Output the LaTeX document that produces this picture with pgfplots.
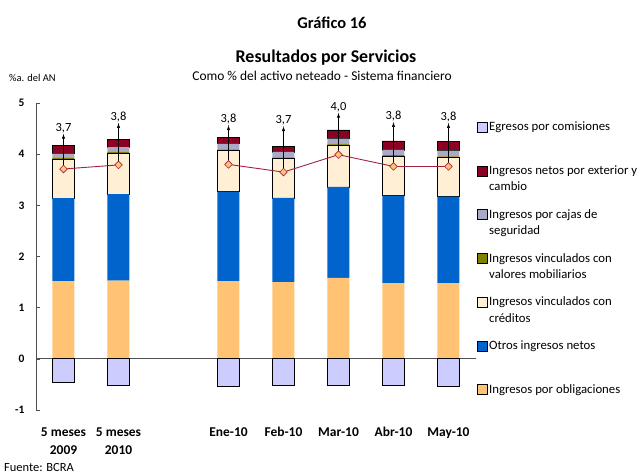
\documentclass[border=0pt]{standalone}
\usepackage{fontspec}
\setmainfont{Carlito}
\usepackage{pgfplots}
\usepackage{pgfplotstable}
\pgfplotsset{compat=1.18}
\usetikzlibrary{arrows.meta}
\definecolor{cEgr}{HTML}{CCCCFF}
\definecolor{cRed}{HTML}{8C0022}
\definecolor{cGray}{HTML}{AAAAC6}
\definecolor{cOlive}{HTML}{808000}
\definecolor{cCream}{HTML}{FFEFD4}
\definecolor{cBlue}{HTML}{0064CC}
\definecolor{cOrange}{HTML}{FFC373}
\definecolor{cLine}{HTML}{A3223E}
\definecolor{cAxis}{HTML}{505050}

\pgfplotstableread{
x lab orange blue cred olive gray red egr total tip d
0 3,7 1.52 1.62 0.76 0.03 0.08 0.16 -0.46 3.71 4.39 0.68
1 3,8 1.53 1.69 0.79 0.04 0.09 0.15 -0.52 3.79 4.60 0.81
3 3,8 1.52 1.75 0.80 0.025 0.11 0.12 -0.54 3.80 4.56 0.76
4 3,7 1.50 1.645 0.765 0.025 0.11 0.10 -0.515 3.65 4.54 0.89
5 4,0 1.58 1.78 0.82 0.025 0.10 0.17 -0.52 3.99 4.80 0.81
6 3,8 1.48 1.71 0.765 0.025 0.105 0.175 -0.52 3.76 4.62 0.86
7 3,8 1.48 1.69 0.76 0.025 0.115 0.185 -0.535 3.76 4.60 0.84
}\data

\pgfplotsset{
  base/.style={
    scale only axis, width=440bp, height=307bp,
    at={(36bp,-410bp)}, anchor=south west,
    xmin=-0.5, xmax=7.5, ymin=-1, ymax=5,
    bar width=0.4,
  },
  sq/.style={legend image code/.code={\draw[##1] (0bp,3.25bp) rectangle (10bp,13.25bp);}},
}

\begin{document}
\begin{tikzpicture}
\begin{axis}[base, ybar stacked, axis lines=none,
  reverse legend,
  legend cell align=left,
  legend style={at={(0.995,0.95)}, anchor=north west, draw=none, fill=none,
    font=\fontsize{12.8}{16.5}\selectfont, row sep=14bp,
    nodes={align=left, inner sep=1.5bp}},
]
\addplot[sq, fill=cOrange, draw=none] table[x=x,y=orange]{\data};
\addlegendentry{Ingresos por obligaciones\\\mbox{}}
\addplot[sq, fill=cBlue, draw=none] table[x=x,y=blue]{\data};
\addlegendentry{Otros ingresos netos\\\mbox{}}
\addplot[sq, fill=cCream, draw=black, line width=0.7bp] table[x=x,y=cred]{\data};
\addlegendentry{Ingresos vinculados con\\créditos}
\addplot[sq, fill=cOlive, draw=none] table[x=x,y=olive]{\data};
\addlegendentry{Ingresos vinculados con\\valores mobiliarios}
\addplot[sq, fill=cGray, draw=none] table[x=x,y=gray]{\data};
\addlegendentry{Ingresos por cajas de\\seguridad}
\addplot[sq, fill=cRed, draw=black, line width=0.6bp] table[x=x,y=red]{\data};
\addlegendentry{Ingresos netos por exterior y\\cambio}
\addlegendimage{sq, fill=cEgr, draw=black, line width=0.7bp}
\addlegendentry{Egresos por comisiones\\\mbox{}}
\end{axis}

\begin{axis}[base,
  axis y line*=left, axis x line*=bottom,
  x axis line style={draw=none},
  y axis line style={cAxis, line width=0.8bp},
  xtick={0,1,3,4,5,6,7},
  xticklabels={{5 meses\\2009},{5 meses\\2010},Ene-10,Feb-10,Mar-10,Abr-10,May-10},
  xticklabel style={align=center, font=\bfseries\fontsize{13.5}{18}\selectfont, yshift=-14bp},
  x tick style={draw=none},
  ytick={-1,1,2,3,4,5},
  extra y ticks={0},
  extra y tick style={grid=major, major grid style={cAxis, line width=0.8bp}},
  tick align=inside,
  major tick length=4bp,
  y tick style={cAxis, line width=0.6bp},
  yticklabel style={font=\bfseries\fontsize{11.5}{13}\selectfont, xshift=-8bp},
  /pgf/number format/assume math mode=true,
  clip=false,
]
\addplot[ybar, bar shift=0pt, fill=cEgr, draw=black, line width=0.7bp] table[x=x,y=egr]{\data};
\addplot[quiver={u=0,v=\thisrow{d}}, -{Latex[length=4.5bp,width=3.5bp]}, black, line width=0.6bp] table[x=x,y=total]{\data};
\addplot[cLine, line width=0.9bp, restrict x to domain=0:1, mark=square*, mark size=2.7bp, mark options={rotate=45, fill=cOrange, draw=cLine, line width=0.6bp}] table[x=x,y=total]{\data};
\addplot[cLine, line width=0.9bp, restrict x to domain=3:7, mark=square*, mark size=2.7bp, mark options={rotate=45, fill=cOrange, draw=cLine, line width=0.6bp}] table[x=x,y=total]{\data};
\addplot[only marks, mark=*, mark size=0.01pt, mark options={draw=none, fill=none},
  nodes near coords, point meta=explicit symbolic,
  nodes near coords style={anchor=base, yshift=3bp, inner sep=0pt, text=black, font=\fontsize{12.5}{14}\selectfont}]
  table[x=x,y=tip,meta=lab]{\data};
\end{axis}

\node[anchor=base, font=\bfseries\fontsize{16.5}{18}\selectfont] at (332bp,-28bp) {Gráfico 16};
\node[anchor=base, font=\bfseries\fontsize{18}{20}\selectfont] at (326bp,-62bp) {Resultados por Servicios};
\node[anchor=base, font=\fontsize{13.5}{15}\selectfont] at (322bp,-80bp) {Como \% del activo neteado - Sistema financiero};
\node[anchor=base west, font=\fontsize{10.5}{12}\selectfont, inner sep=0pt] at (9bp,-81bp) {\%a. del AN};
\node[anchor=base west, font=\fontsize{12.5}{14}\selectfont, inner sep=0pt] at (4bp,-471bp) {Fuente: BCRA};

\pgfresetboundingbox
\path (0bp,0bp) rectangle (639bp,-474bp);
\end{tikzpicture}
\end{document}
